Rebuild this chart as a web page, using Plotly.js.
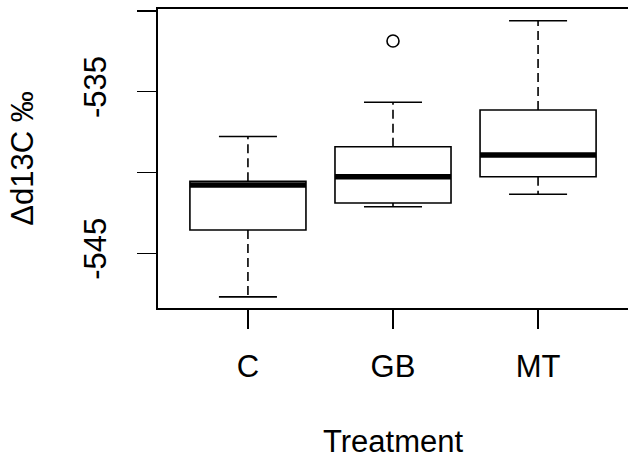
<!DOCTYPE html>
<html>
<head>
<meta charset="utf-8">
<script src="https://cdn.plot.ly/plotly-3.0.1.min.js"></script>
<style>html,body{margin:0;padding:0;background:#fff;}#chart{width:628px;height:459px;}</style>
</head>
<body>
<div id="chart"></div>
<script>
// ---- data ----
const categories   = ['C', 'GB', 'MT'];
const lowerWhisker = [-547.69, -542.12, -541.35];
const q1Values     = [-543.56, -541.89, -540.26];
const medians      = [-540.77, -540.26, -538.92];
const q3Values     = [-540.54, -538.41, -536.14];
const upperWhisker = [-537.77, -535.66, -530.62];
const outlierCategory = ['GB'];
const outlierValues   = [-531.87];
const yTickValues = [-545, -540, -535, -530];
const yTickLabels = ['-545', '', '-535', ''];

// ---- styling ----
const FONT = 'Liberation Sans, Arial, Helvetica, sans-serif';
const FS = 31;
const BOXW = 0.8, CAPW = 0.4;
const pos = categories.map((c, i) => i + 1);

const traces = [];
traces.push({
  type: 'box', x: pos, q1: q1Values, median: medians, q3: q3Values,
  lowerfence: q1Values, upperfence: q3Values,
  width: BOXW, whiskerwidth: 0, boxpoints: false,
  fillcolor: '#ffffff', line: {color: '#000', width: 1.6},
  hoverinfo: 'skip', showlegend: false
});

const wx = [], wy = [], cx = [], cy = [], mx = [], my = [];
pos.forEach((p, i) => {
  wx.push(p, p, null, p, p, null);
  wy.push(q3Values[i], upperWhisker[i], null, q1Values[i], lowerWhisker[i], null);
  cx.push(p - CAPW / 2, p + CAPW / 2, null, p - CAPW / 2, p + CAPW / 2, null);
  cy.push(upperWhisker[i], upperWhisker[i], null, lowerWhisker[i], lowerWhisker[i], null);
  mx.push(p - BOXW / 2, p + BOXW / 2, null);
  my.push(medians[i], medians[i], null);
});
traces.push({type: 'scatter', mode: 'lines', x: wx, y: wy,
  line: {color: '#000', width: 1.6, dash: '9px,5px'}, hoverinfo: 'skip', showlegend: false});
traces.push({type: 'scatter', mode: 'lines', x: cx, y: cy,
  line: {color: '#000', width: 1.6}, hoverinfo: 'skip', showlegend: false});
traces.push({type: 'scatter', mode: 'lines', x: mx, y: my,
  line: {color: '#000', width: 5.5}, hoverinfo: 'skip', showlegend: false});
traces.push({type: 'scatter', mode: 'markers',
  x: outlierCategory.map(c => categories.indexOf(c) + 1), y: outlierValues,
  marker: {symbol: 'circle-open', size: 12, color: '#000', line: {width: 1.6, color: '#000'}},
  hoverinfo: 'skip', showlegend: false});

const layout = {
  width: 628, height: 459,
  margin: {l: 158, r: 0, t: 9, b: 151},
  paper_bgcolor: '#fff', plot_bgcolor: '#fff',
  font: {family: FONT, size: FS, color: '#000'},
  showlegend: false,
  xaxis: {
    range: [0.38, 3.62], tickvals: pos, ticktext: categories,
    showgrid: false, zeroline: false,
    showline: true, mirror: true, linecolor: '#000', linewidth: 1.6,
    ticks: 'outside', ticklen: 19, tickwidth: 1.6, tickcolor: '#000',
    ticklabelstandoff: 11,
    tickfont: {family: FONT, size: FS, color: '#000'},
    title: {text: 'Treatment', font: {family: FONT, size: FS, color: '#000'}, standoff: 49}
  },
  yaxis: {
    range: [-548.38, -529.89], tickvals: yTickValues, ticktext: yTickLabels,
    tickangle: -90,
    showgrid: false, zeroline: false,
    showline: true, mirror: true, linecolor: '#000', linewidth: 1.6,
    ticks: 'outside', ticklen: 19, tickwidth: 1.6, tickcolor: '#000',
    ticklabelstandoff: 19,
    tickfont: {family: FONT, size: FS, color: '#000'},
    title: {text: 'Δd13C ‰', font: {family: FONT, size: FS, color: '#000'}, standoff: 35}
  }
};

Plotly.newPlot('chart', traces, layout, {staticPlot: true, displayModeBar: false});
</script>
</body>
</html>
